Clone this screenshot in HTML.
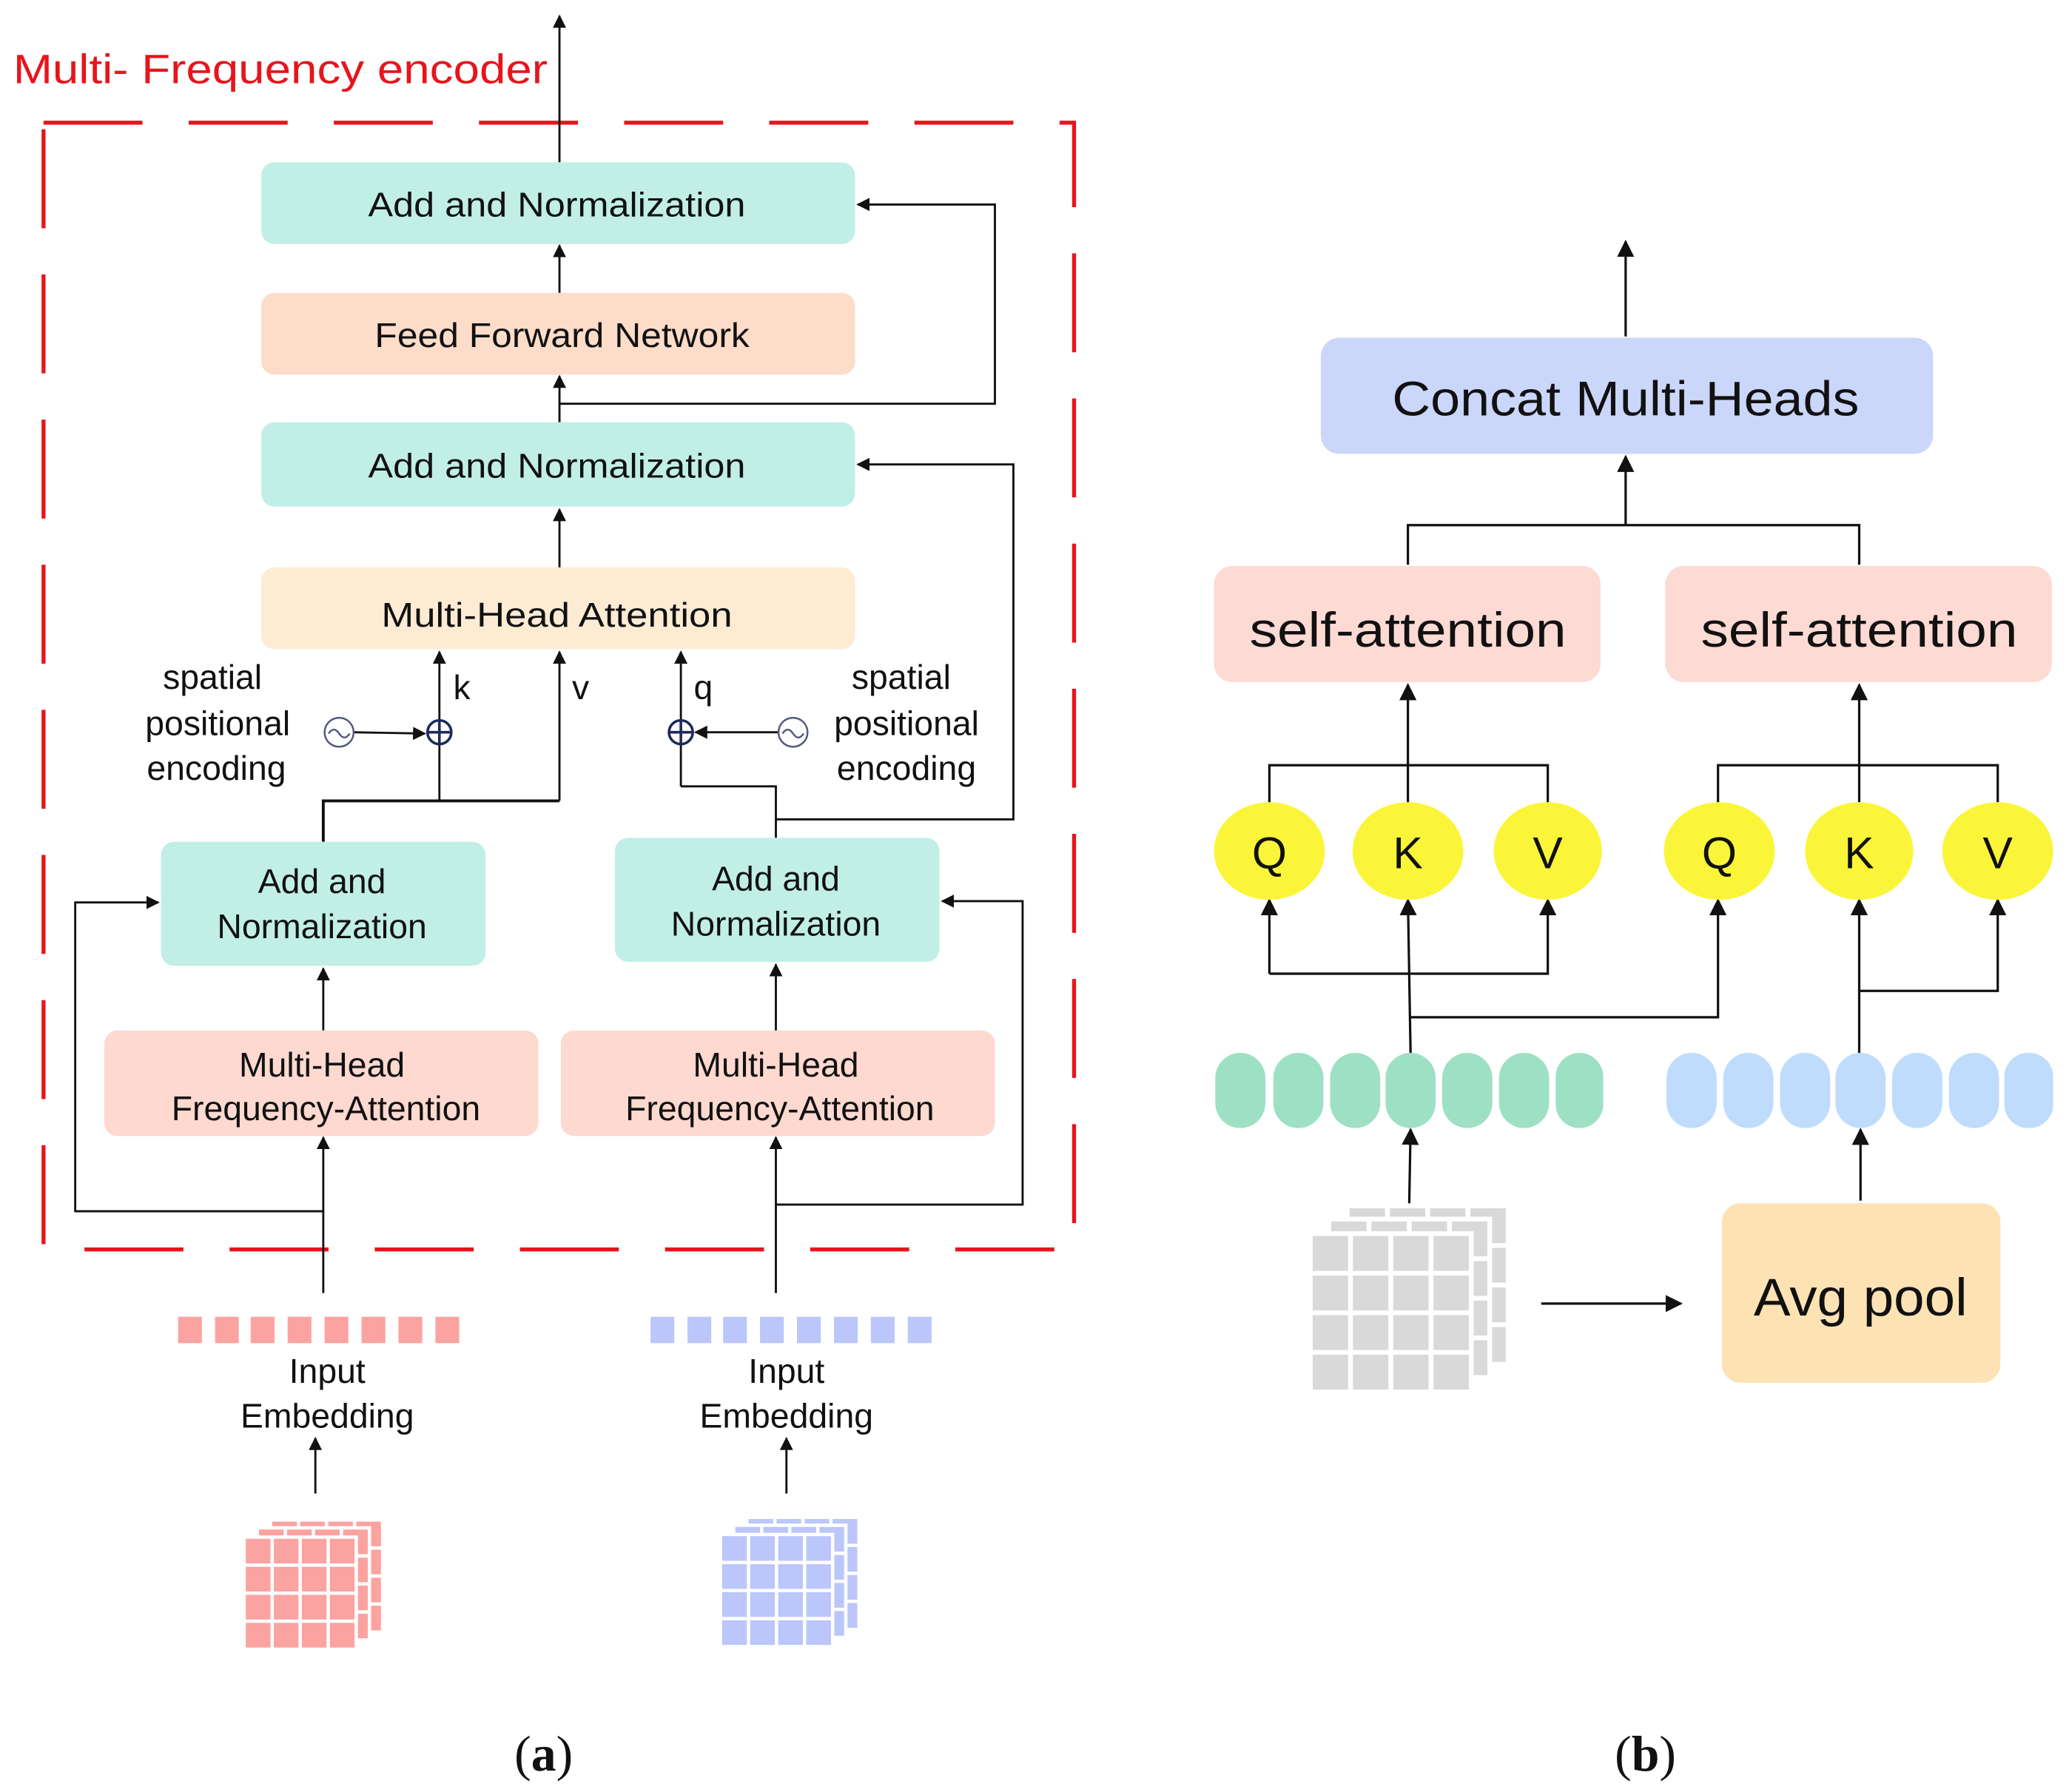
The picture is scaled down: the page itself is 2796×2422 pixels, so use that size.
<!DOCTYPE html>
<html><head><meta charset="utf-8"><style>
html,body{margin:0;padding:0;background:#fff;}
svg{display:block;}
text{font-family:"Liberation Sans",sans-serif;fill:#111;}
</style></head><body>
<svg width="2796" height="2422" viewBox="0 0 1568 1358.2" preserveAspectRatio="none" xmlns="http://www.w3.org/2000/svg">
<defs>
<marker id="a" viewBox="0 0 10 10" refX="9" refY="5" markerWidth="10" markerHeight="10" markerUnits="userSpaceOnUse" orient="auto"><path d="M0,0 L10,5 L0,10 z" fill="#111"/></marker>
<marker id="b" viewBox="0 0 10 10" refX="9" refY="5" markerWidth="13" markerHeight="13" markerUnits="userSpaceOnUse" orient="auto"><path d="M0,0 L10,5 L0,10 z" fill="#111"/></marker>
<g id="L"><rect x="0" y="0" width="100" height="100"/><path d="M25,0V100M50,0V100M75,0V100M0,25H100M0,50H100M0,75H100" stroke="#fff" stroke-width="3" fill="none"/><rect x="0" y="0" width="100" height="100" fill="none" stroke="#fff" stroke-width="3"/></g>
</defs>

<!-- (a) -->
<text x="10" y="63" font-size="31" style="fill:#e8141c" textLength="405" lengthAdjust="spacingAndGlyphs">Multi- Frequency encoder</text>
<rect x="33" y="93" width="781" height="854" fill="none" stroke="#e8141c" stroke-width="3" stroke-dasharray="75,35"/>
<line x1="424" y1="123" x2="424" y2="12" stroke="#111" stroke-width="1.6" marker-end="url(#a)"/>

<rect x="198" y="123" width="450" height="62" rx="10" fill="#c1efe6"/>
<text x="422" y="164" font-size="26" text-anchor="middle" textLength="286" lengthAdjust="spacingAndGlyphs">Add and Normalization</text>
<rect x="198" y="222" width="450" height="62" rx="10" fill="#fddcc9"/>
<text x="426" y="263" font-size="26" text-anchor="middle" textLength="284" lengthAdjust="spacingAndGlyphs">Feed Forward Network</text>
<rect x="198" y="320" width="450" height="64" rx="10" fill="#c1efe6"/>
<text x="422" y="362" font-size="26" text-anchor="middle" textLength="286" lengthAdjust="spacingAndGlyphs">Add and Normalization</text>
<rect x="198" y="430" width="450" height="62" rx="10" fill="#fdebd4"/>
<text x="422" y="475" font-size="26" text-anchor="middle" textLength="266" lengthAdjust="spacingAndGlyphs">Multi-Head Attention</text>

<g stroke="#111" stroke-width="1.6" fill="none">
<line x1="424" y1="222" x2="424" y2="186" marker-end="url(#a)"/>
<line x1="424" y1="320" x2="424" y2="285" marker-end="url(#a)"/>
<line x1="424" y1="430" x2="424" y2="386" marker-end="url(#a)"/>
<polyline points="424,306 754,306 754,155 650,155" marker-end="url(#a)"/>
<polyline points="588,621 768,621 768,352 650,352" marker-end="url(#a)"/>
<line x1="333" y1="607" x2="333" y2="494" marker-end="url(#a)"/>
<line x1="424" y1="607" x2="424" y2="494" marker-end="url(#a)"/>
<line x1="516" y1="596" x2="516" y2="494" marker-end="url(#a)"/>
<polyline points="245,638 245,607 424,607" stroke-width="2.2"/>
<polyline points="588,635 588,596 516,596"/>
<line x1="268" y1="555" x2="322" y2="556" marker-end="url(#a)"/>
<line x1="590" y1="555" x2="527" y2="555" marker-end="url(#a)"/>
<line x1="245" y1="781" x2="245" y2="734" marker-end="url(#a)"/>
<line x1="588" y1="781" x2="588" y2="731" marker-end="url(#a)"/>
<line x1="245" y1="980" x2="245" y2="862" marker-end="url(#a)"/>
<line x1="588" y1="980" x2="588" y2="862" marker-end="url(#a)"/>
<polyline points="245,918 57,918 57,684 120,684" marker-end="url(#a)"/>
<polyline points="588,913 775,913 775,683 714,683" marker-end="url(#a)"/>
<line x1="239" y1="1132" x2="239" y2="1090" marker-end="url(#a)"/>
<line x1="596" y1="1132" x2="596" y2="1090" marker-end="url(#a)"/>
</g>
<g stroke="#1d2a5a" stroke-width="2" fill="none">
<circle cx="333" cy="555" r="9"/><path d="M324,555H342M333,546V564"/>
<circle cx="516" cy="555" r="9"/><path d="M507,555H525M516,546V564"/>
</g>
<g stroke="#555a80" stroke-width="1.4" fill="none">
<circle cx="257" cy="555" r="11"/><path d="M249,556 q4,-6 8,0 t8,0"/>
<circle cx="601" cy="555" r="11"/><path d="M593,556 q4,-6 8,0 t8,0"/>
</g>
<g font-size="26" text-anchor="middle">
<text x="161" y="522">spatial</text><text x="165" y="557">positional</text><text x="164" y="591">encoding</text>
<text x="683" y="522">spatial</text><text x="687" y="557">positional</text><text x="687" y="591">encoding</text>
<text x="350" y="530">k</text><text x="440" y="530">v</text><text x="533" y="530">q</text>
</g>

<rect x="122" y="638" width="246" height="94" rx="10" fill="#c1efe6"/>
<text x="244" y="677" font-size="26" text-anchor="middle">Add and</text>
<text x="244" y="711" font-size="26" text-anchor="middle">Normalization</text>
<rect x="466" y="635" width="246" height="94" rx="10" fill="#c1efe6"/>
<text x="588" y="675" font-size="26" text-anchor="middle">Add and</text>
<text x="588" y="709" font-size="26" text-anchor="middle">Normalization</text>
<rect x="79" y="781" width="329" height="80" rx="10" fill="#fdd9d0"/>
<text x="244" y="816" font-size="26" text-anchor="middle">Multi-Head</text>
<text x="247" y="849" font-size="26" text-anchor="middle">Frequency-Attention</text>
<rect x="425" y="781" width="329" height="80" rx="10" fill="#fdd9d0"/>
<text x="588" y="816" font-size="26" text-anchor="middle">Multi-Head</text>
<text x="591" y="849" font-size="26" text-anchor="middle">Frequency-Attention</text>

<g fill="#fba3a0">
<rect x="135" y="998" width="18" height="20"/><rect x="163" y="998" width="18" height="20"/><rect x="190" y="998" width="18" height="20"/><rect x="218" y="998" width="18" height="20"/><rect x="246" y="998" width="18" height="20"/><rect x="274" y="998" width="18" height="20"/><rect x="302" y="998" width="18" height="20"/><rect x="330" y="998" width="18" height="20"/>
</g>
<g fill="#bbc6fb">
<rect x="493" y="998" width="18" height="20"/><rect x="521" y="998" width="18" height="20"/><rect x="548" y="998" width="18" height="20"/><rect x="576" y="998" width="18" height="20"/><rect x="604" y="998" width="18" height="20"/><rect x="632" y="998" width="18" height="20"/><rect x="660" y="998" width="18" height="20"/><rect x="688" y="998" width="18" height="20"/>
</g>
<g font-size="26" text-anchor="middle">
<text x="248" y="1048">Input</text><text x="248" y="1082">Embedding</text>
<text x="596" y="1048">Input</text><text x="596" y="1082">Embedding</text>
</g>
<g fill="#fba3a0">
<use href="#L" transform="translate(205,1152) scale(0.85)"/>
<use href="#L" transform="translate(195,1158) scale(0.85)"/>
<use href="#L" transform="translate(185,1165) scale(0.85)"/>
</g>
<g fill="#bbc6fb">
<use href="#L" transform="translate(566,1150) scale(0.85)"/>
<use href="#L" transform="translate(556,1156) scale(0.85)"/>
<use href="#L" transform="translate(546,1163) scale(0.85)"/>
</g>
<text x="412" y="1342" font-size="38" text-anchor="middle" style="font-family:'Liberation Serif',serif">(<tspan font-weight="bold">a</tspan>)</text>

<!-- (b) -->
<g stroke="#111" stroke-width="1.8" fill="none">
<line x1="1232" y1="255" x2="1232" y2="183" marker-end="url(#b)"/>
<line x1="1232" y1="398" x2="1232" y2="346" marker-end="url(#b)"/>
<polyline points="1067,428 1067,398 1409,398 1409,428"/>
<line x1="1067" y1="608" x2="1067" y2="519" marker-end="url(#b)"/>
<line x1="1409" y1="608" x2="1409" y2="519" marker-end="url(#b)"/>
<polyline points="962,608 962,580 1173,580 1173,608"/>
<polyline points="1302,608 1302,580 1514,580 1514,608"/>
<polyline points="962,738 962,682" marker-end="url(#b)"/>
<polyline points="1069,738 1173,738 1173,682" marker-end="url(#b)"/>
<polyline points="1069,738 962,738"/>
<line x1="1069" y1="798" x2="1067" y2="682" marker-end="url(#b)"/>
<polyline points="1069,771 1302,771 1302,682" marker-end="url(#b)"/>
<line x1="1409" y1="798" x2="1409" y2="682" marker-end="url(#b)"/>
<polyline points="1409,751 1514,751 1514,682" marker-end="url(#b)"/>
<line x1="1068" y1="912" x2="1069" y2="856" marker-end="url(#b)"/>
<line x1="1410" y1="910" x2="1410" y2="856" marker-end="url(#b)"/>
<line x1="1168" y1="988" x2="1274" y2="988" marker-end="url(#b)"/>
</g>
<rect x="1001" y="256" width="464" height="88" rx="14" fill="#cbd6fb"/>
<text x="1232" y="315" font-size="37" text-anchor="middle" textLength="354" lengthAdjust="spacingAndGlyphs">Concat Multi-Heads</text>
<rect x="920" y="429" width="293" height="88" rx="14" fill="#fddad3"/>
<text x="1067" y="490" font-size="37" text-anchor="middle" textLength="240" lengthAdjust="spacingAndGlyphs">self-attention</text>
<rect x="1262" y="429" width="293" height="88" rx="14" fill="#fddad3"/>
<text x="1409" y="490" font-size="37" text-anchor="middle" textLength="240" lengthAdjust="spacingAndGlyphs">self-attention</text>
<g fill="#fbf53a">
<ellipse cx="962" cy="645" rx="42" ry="37"/><ellipse cx="1067" cy="645" rx="42" ry="37"/><ellipse cx="1173" cy="645" rx="41" ry="37"/>
<ellipse cx="1303" cy="645" rx="42" ry="37"/><ellipse cx="1409" cy="645" rx="41" ry="37"/><ellipse cx="1514" cy="645" rx="42" ry="37"/>
</g>
<g font-size="34" text-anchor="middle">
<text x="962" y="658">Q</text><text x="1067" y="658">K</text><text x="1173" y="658">V</text>
<text x="1303" y="658">Q</text><text x="1409" y="658">K</text><text x="1514" y="658">V</text>
</g>
<g fill="#9ee0c4">
<rect x="921" y="798" width="38" height="57" rx="19"/><rect x="965" y="798" width="38" height="57" rx="19"/><rect x="1008" y="798" width="38" height="57" rx="19"/><rect x="1050" y="798" width="38" height="57" rx="19"/><rect x="1093" y="798" width="38" height="57" rx="19"/><rect x="1136" y="798" width="38" height="57" rx="19"/><rect x="1179" y="798" width="36" height="57" rx="18"/>
</g>
<g fill="#bfdcfd">
<rect x="1263" y="798" width="38" height="57" rx="19"/><rect x="1306" y="798" width="38" height="57" rx="19"/><rect x="1349" y="798" width="38" height="57" rx="19"/><rect x="1391" y="798" width="38" height="57" rx="19"/><rect x="1434" y="798" width="38" height="57" rx="19"/><rect x="1477" y="798" width="38" height="57" rx="19"/><rect x="1519" y="798" width="37" height="57" rx="18"/>
</g>
<g fill="#d9d9d9">
<use href="#L" transform="translate(1021,914) scale(1.22,1.2)"/>
<use href="#L" transform="translate(1007,924) scale(1.22,1.2)"/>
<use href="#L" transform="translate(993,935) scale(1.22,1.2)"/>
</g>
<rect x="1305" y="912" width="211" height="136" rx="14" fill="#fde2b4"/>
<text x="1410" y="997" font-size="40" text-anchor="middle" textLength="162" lengthAdjust="spacingAndGlyphs">Avg pool</text>
<text x="1247" y="1342" font-size="38" text-anchor="middle" style="font-family:'Liberation Serif',serif">(<tspan font-weight="bold">b</tspan>)</text>
</svg>
</body></html>
